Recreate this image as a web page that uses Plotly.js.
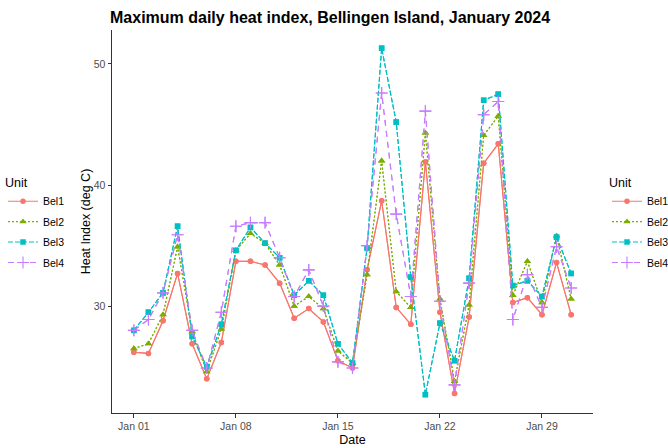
<!DOCTYPE html>
<html>
<head>
<meta charset="utf-8">
<script src="https://cdn.plot.ly/plotly-3.0.1.min.js"></script>
<style>html,body{margin:0;padding:0;background:#fff;}#chart{width:668px;height:448px;}</style>
</head>
<body>
<div id="chart"></div>
<script>
const dates = ['2024-01-01','2024-01-02','2024-01-03','2024-01-04','2024-01-05','2024-01-06','2024-01-07','2024-01-08','2024-01-09','2024-01-10','2024-01-11','2024-01-12','2024-01-13','2024-01-14','2024-01-15','2024-01-16','2024-01-17','2024-01-18','2024-01-19','2024-01-20','2024-01-21','2024-01-22','2024-01-23','2024-01-24','2024-01-25','2024-01-26','2024-01-27','2024-01-28','2024-01-29','2024-01-30','2024-01-31'];
const bel1 = [26.2,26.1,28.8,32.7,26.9,24.0,27.0,33.7,33.7,33.4,31.9,29.0,29.8,28.7,25.5,24.9,33.0,38.7,29.9,28.5,41.9,29.5,22.8,29.1,41.8,43.4,30.3,30.7,29.3,33.6,29.3];
const bel2 = [26.5,26.9,29.3,34.9,27.9,24.6,28.1,34.6,36.0,35.2,33.4,30.0,30.8,29.8,26.3,25.3,32.6,42.0,31.2,29.9,44.3,30.6,23.8,30.1,44.1,45.7,30.9,33.7,30.3,35.8,30.6];
const bel3 = [28.0,29.5,31.1,36.6,27.5,25.0,28.5,34.6,36.5,35.2,34.0,30.9,32.1,30.9,26.9,25.3,34.8,51.3,45.2,32.4,22.7,28.6,25.5,32.3,47.0,47.5,31.7,32.1,30.8,35.7,32.7];
const bel4 = [28.0,28.9,31.1,35.9,28.0,24.9,29.5,36.6,36.9,36.9,34.0,30.8,33.0,30.0,25.4,24.9,35.0,47.6,37.6,30.8,46.1,30.4,23.5,31.9,45.8,46.9,28.9,32.6,29.9,34.9,31.5];
const units = ['Bel1','Bel2','Bel3','Bel4'];
const tickDates = ['2024-01-01','2024-01-08','2024-01-15','2024-01-22','2024-01-29'];
const tickLabels = ['Jan 01','Jan 08','Jan 15','Jan 22','Jan 29'];
const yTicks = [30,40,50];

const series = [bel1, bel2, bel3, bel4];
const colors = ['#F8766D','#7CAE00','#00BFC4','#C77CFF'];
const symbols = ['circle','triangle-up','square','cross-thin'];
const msizes = [5.5,6.5,5.5,8.5];
const dashes = ['solid','2px,2px','5px,2px','6px,5px'];

const traces = [];
['legend','legend2'].forEach((lg, li) => {
  series.forEach((ys, i) => {
    traces.push({
      type: 'scatter', mode: 'lines+markers',
      x: dates, y: ys, name: units[i],
      legend: lg, legendgroup: lg + i,
      line: {color: colors[i], width: 1.1, dash: dashes[i]},
      marker: {color: colors[i], symbol: symbols[i], size: msizes[i],
               line: {color: colors[i], width: i === 3 ? 1.1 : 0}},
      hoverinfo: 'x+y+name'
    });
  });
});

const font = {family: 'Liberation Sans, Arial, sans-serif', color: '#000'};
const legendBase = {
  xref: 'container', yref: 'container', xanchor: 'left', yanchor: 'top',
  y: 1 - 170.5/448, bgcolor: 'rgba(0,0,0,0)', borderwidth: 0,
  tracegroupgap: 1.4,
  font: {family: font.family, size: 10.5, color: '#000'},
  title: {text: 'Unit', font: {family: font.family, size: 12.5, color: '#000'}}
};

const layout = {
  width: 668, height: 448,
  paper_bgcolor: '#fff', plot_bgcolor: '#fff',
  margin: {l: 112, r: 75, t: 30, b: 35, autoexpand: false},
  font: font,
  title: {text: '<b>Maximum daily heat index, Bellingen Island, January 2024</b>',
          xref: 'container', yref: 'container', x: 110/668, xanchor: 'left',
          y: 1 - 17.5/448, yanchor: 'middle',
          font: {family: font.family, size: 16, color: '#000'}},
  xaxis: {type: 'date', range: ['2023-12-30 12:00', '2024-02-01 12:00'],
          tickmode: 'array', tickvals: tickDates, ticktext: tickLabels,
          showgrid: false, zeroline: false, showline: true, linecolor: '#333', linewidth: 1,
          ticks: 'outside', ticklen: 3.5, tickcolor: '#333', tickwidth: 1,
          tickfont: {family: font.family, size: 10.5, color: '#4D4D4D'},
          title: {text: 'Date', font: {family: font.family, size: 12.5, color: '#000'}, standoff: 4}},
  yaxis: {range: [21.18, 52.8], tickmode: 'array', tickvals: yTicks,
          showgrid: false, zeroline: false, showline: true, linecolor: '#333', linewidth: 1,
          ticks: 'outside', ticklen: 3.5, tickcolor: '#333', tickwidth: 1,
          tickfont: {family: font.family, size: 10.5, color: '#4D4D4D'},
          title: {text: 'Heat Index (deg C)', font: {family: font.family, size: 12.5, color: '#000'}, standoff: 0}},
  legend: Object.assign({}, legendBase, {x: 3/668}),
  legend2: Object.assign({}, legendBase, {x: 607/668}),
  showlegend: true
};

Plotly.newPlot('chart', traces, layout, {displayModeBar: false, staticPlot: true});
</script>
</body>
</html>
